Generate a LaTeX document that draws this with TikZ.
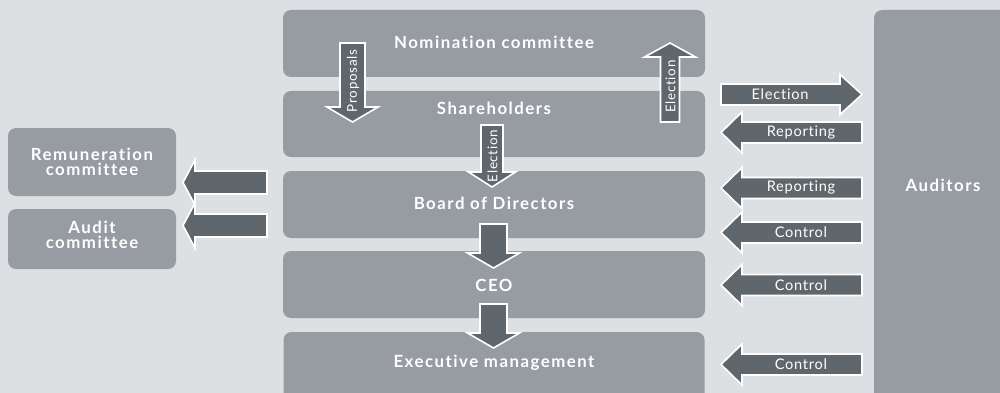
\documentclass[tikz,border=0pt]{standalone}
\usepackage{fontspec}
\setmainfont{Lato}
\newfontfamily\boxfont{Lato}[LetterSpace=9,UprightFont={* Bold},Ligatures={NoCommon,NoDiscretionary}]
\newfontfamily\arrfont{Lato}[LetterSpace=5,Ligatures={NoCommon,NoDiscretionary}]
\definecolor{bgc}{HTML}{DDE0E3}
\definecolor{boxc}{HTML}{979BA2}
\definecolor{arrc}{HTML}{5F666C}
\newcommand\blockarrow[6]{%
  \begin{scope}[shift={#1},rotate=#2]
    \filldraw[arrowshape] (0,-#4) -- ({#3-#6},-#4) -- ({#3-#6},-#5) -- (#3,0)
      -- ({#3-#6},#5) -- ({#3-#6},#4) -- (0,#4) -- cycle;
  \end{scope}}
\begin{document}
\begin{tikzpicture}[x=1pt,y=-1pt,
  box/.style={fill=boxc, draw=none, rounded corners=8pt, inner sep=0pt},
  boxtext/.style={text=white, font=\boxfont\fontsize{16.8}{15.5}\selectfont, align=center, inner sep=0pt},
  arrowshape/.style={fill=arrc, draw=white, line width=1.6pt, line join=miter},
  arrtext/.style={text=white, font=\arrfont\fontsize{14.6}{14}\selectfont, inner sep=0pt},
  vtext/.style={text=white, font=\arrfont\fontsize{13.4}{13}\selectfont, inner sep=0pt, rotate=90}]
\useasboundingbox (0,0) rectangle (1000,393);
\clip (0,0) rectangle (1000,393);
\fill[bgc] (0,0) rectangle (1000,393);
% boxes
\node[box, minimum width=422pt, minimum height=67pt] (nom) at (494,43.5) {};
\node[box, minimum width=422pt, minimum height=66pt] (sh) at (494,124) {};
\node[box, minimum width=422pt, minimum height=67pt] (bod) at (494,204.5) {};
\node[box, minimum width=422pt, minimum height=67pt] (ceo) at (494,284.5) {};
\node[box, minimum width=421pt, minimum height=70pt] (exe) at (494,367) {};
\node[box, minimum width=168pt, minimum height=68pt] (rem) at (92,162) {};
\node[box, minimum width=168pt, minimum height=60pt] (aud) at (92,239) {};
\node[box, minimum width=150pt, minimum height=400pt] (audi) at (949,210) {};
% box texts
\node[boxtext] (tnom) at (494,42) {Nomination committee};
\node[boxtext] (tsh) at (494,108) {Shareholders};
\node[boxtext] (tbod) at (494,203) {Board of Directors};
\node[boxtext] (tceo) at (494,285) {CEO};
\node[boxtext] (texe) at (494,363) {Executive management};
\node[boxtext] (trem) at (92,162) {Remuneration\\committee};
\node[boxtext] (taud) at (92,235) {Audit\\committee};
\node[boxtext] (taudi) at (943,185) {Auditors};
% vertical arrows
\blockarrow{(352.5,43)}{-90}{79}{12.5}{25.5}{15}
\blockarrow{(670,122)}{90}{79}{9.5}{25.5}{14}
\blockarrow{(492,125)}{-90}{62}{11}{23.5}{15}
\blockarrow{(493.5,224)}{-90}{44}{13.5}{26}{15}
\blockarrow{(493.5,304)}{-90}{44}{13.5}{26}{15}
% left arrows
\blockarrow{(267,182.5)}{180}{84}{11.5}{22.5}{12}
\blockarrow{(267,225.5)}{180}{84}{11.5}{22.5}{12}
% right arrows
\blockarrow{(721,94.5)}{0}{141}{10.5}{20}{22}
\blockarrow{(862,132.5)}{180}{141}{10.5}{20.5}{21}
\blockarrow{(862,188)}{180}{141}{10.5}{20.5}{21}
\blockarrow{(862,232.5)}{180}{141}{10.5}{20.5}{21}
\blockarrow{(862,285)}{180}{141}{10.5}{20.5}{21}
\blockarrow{(862,364.5)}{180}{141}{10.5}{20.5}{21}
% arrow labels
\node[vtext] (lprop) at (353,81) {Proposals};
\node[vtext] (lel1) at (670.5,86.5) {Election};
\node[vtext] (lel2) at (492.5,156) {Election};
\node[arrtext] (lel3) at (780,94.5) {Election};
\node[arrtext] (lrep1) at (801,132.5) {Reporting};
\node[arrtext] (lrep2) at (801,188) {Reporting};
\node[arrtext] (lc1) at (801,232.5) {Control};
\node[arrtext] (lc2) at (801,285) {Control};
\node[arrtext] (lc3) at (801,364.5) {Control};
\end{tikzpicture}
\end{document}
